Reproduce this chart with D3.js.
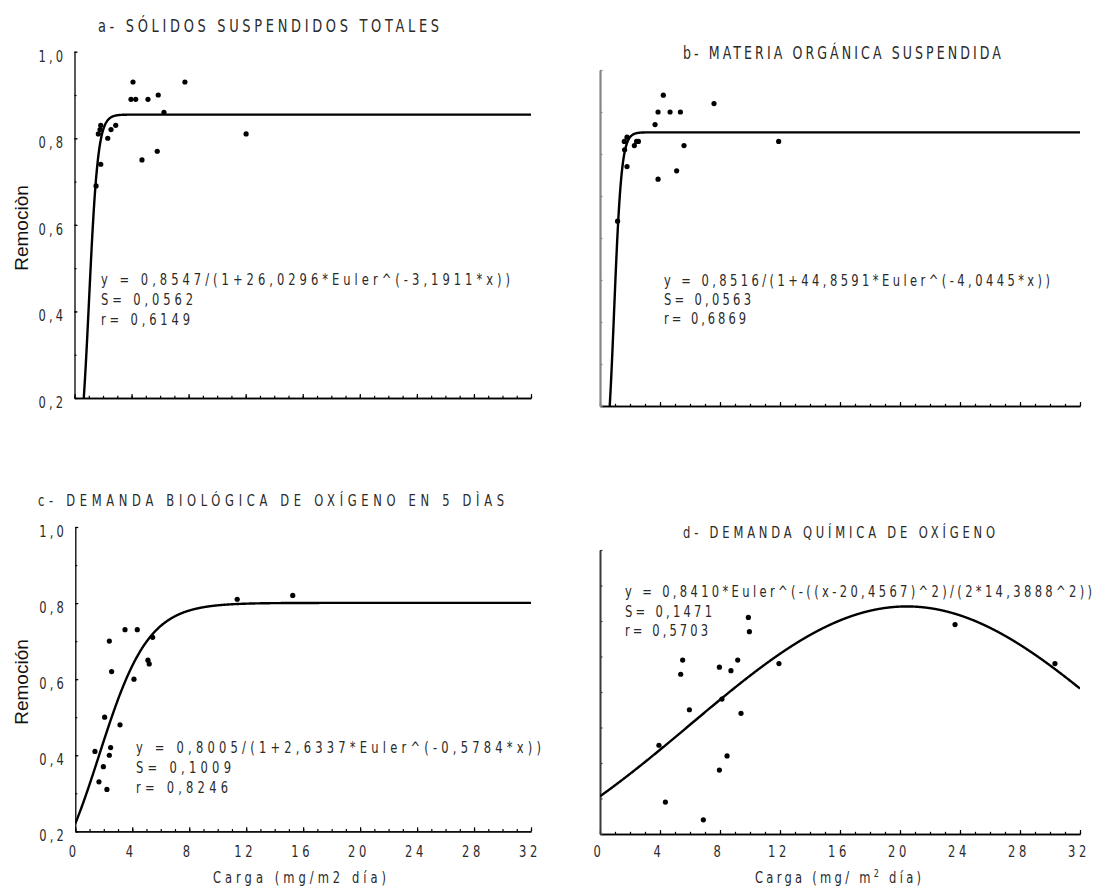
<!DOCTYPE html>
<html>
<head>
<meta charset="utf-8">
<script src="https://cdn.jsdelivr.net/npm/d3@7"></script>
<style>
  body { margin: 0; background: #fff; }
  svg { display: block; }
</style>
</head>
<body>
<svg id="chart" width="1097" height="890"></svg>
<script>
// ---- data: carga (mg/m2 día) vs remoción ----
// a - sólidos suspendidos totales
const ssCarga    = [1.51, 1.67, 1.84, 1.79, 1.84, 2.33, 2.56, 2.89, 4.10, 3.96, 4.29, 5.15, 5.87, 6.27, 4.73, 5.80, 7.74, 12.03];
const ssRemocion = [0.69, 0.81, 0.83, 0.82, 0.74, 0.80, 0.82, 0.83, 0.93, 0.89, 0.89, 0.89, 0.90, 0.86, 0.75, 0.77, 0.93, 0.81];
// b - materia orgánica suspendida
const moCarga    = [1.17, 1.62, 1.80, 1.64, 1.80, 2.29, 2.44, 2.56, 3.67, 3.87, 4.22, 4.67, 5.36, 3.87, 5.11, 5.60, 7.60, 11.91];
const moRemocion = [0.64, 0.83, 0.84, 0.81, 0.77, 0.82, 0.83, 0.83, 0.87, 0.90, 0.94, 0.90, 0.90, 0.74, 0.76, 0.82, 0.92, 0.83];
// c - demanda biológica de oxígeno en 5 días
const dboCarga    = [1.38, 1.66, 1.97, 2.22, 2.39, 2.48, 2.06, 2.39, 2.55, 3.14, 3.49, 4.35, 4.12, 5.10, 5.19, 5.43, 11.37, 15.27];
const dboRemocion = [0.41, 0.33, 0.37, 0.31, 0.40, 0.42, 0.50, 0.70, 0.62, 0.48, 0.73, 0.73, 0.60, 0.65, 0.64, 0.71, 0.81, 0.82];
// d - demanda química de oxígeno
const dqoCarga    = [3.93, 4.36, 5.38, 5.51, 5.96, 6.89, 7.96, 7.96, 8.13, 8.47, 8.73, 9.18, 9.40, 9.89, 9.96, 11.93, 23.67, 30.33];
const dqoRemocion = [0.45, 0.29, 0.65, 0.69, 0.55, 0.24, 0.67, 0.38, 0.58, 0.42, 0.66, 0.69, 0.54, 0.81, 0.77, 0.68, 0.79, 0.68];

// fitted model parameters
const ssFit  = [0.8547, 26.0296, 3.1911];   // logistic a/(1+b*e^(-c*x))
const moFit  = [0.8516, 44.8591, 4.0445];   // logistic
const dboFit = [0.8005, 2.6337, 0.5784];    // logistic
const dqoFit = [0.8410, 20.4567, 14.3888];  // gaussian a*e^(-((x-m)^2)/(2*s^2))

const xDomain = [0, 32];
const yDomain = [0.2, 1.0];
const xTickValues = [0, 4, 8, 12, 16, 20, 24, 28, 32];
const yTickValues = [0.2, 0.4, 0.6, 0.8, 1.0];
const yTickLabels = ["0,2", "0,4", "0,6", "0,8", "1,0"];

const titles = [
  "a- SÓLIDOS SUSPENDIDOS TOTALES",
  "b- MATERIA ORGÁNICA SUSPENDIDA",
  "c- DEMANDA BIOLÓGICA DE OXÍGENO EN 5 DÌAS",
  "d- DEMANDA QUÍMICA DE OXÍGENO"
];
const equations = [
  "y = 0,8547/(1+26,0296*Euler^(-3,1911*x))",
  "y = 0,8516/(1+44,8591*Euler^(-4,0445*x))",
  "y = 0,8005/(1+2,6337*Euler^(-0,5784*x))",
  "y = 0,8410*Euler^(-((x-20,4567)^2)/(2*14,3888^2))"
];
const sValues = ["S= 0,0562", "S= 0,0563", "S= 0,1009", "S= 0,1471"];
const rValues = ["r= 0,6149", "r= 0,6869", "r= 0,8246", "r= 0,5703"];

const logistic = p => x => p[0] / (1 + p[1] * Math.exp(-p[2] * x));
const gaussian = p => x => p[0] * Math.exp(-((x - p[1]) ** 2) / (2 * p[2] ** 2));

const NARROW = "'Liberation Sans Narrow', 'Arial Narrow', 'DejaVu Sans Condensed', sans-serif";
const SANS = "'Liberation Sans', Arial, sans-serif";
const SX = 0.8;          // horizontal squeeze for the condensed lettering
const INK = "#2a2a2a";

// condensed text of a given total width, placed at (x, y)
function narrowText(parent, x, y, str, len, size, anchor) {
  const t = parent.append("g")
    .attr("transform", `translate(${x},${y}) scale(${SX},1)`)
    .append("text")
    .attr("font-family", NARROW).attr("font-size", size).attr("fill", INK)
    .attr("xml:space", "preserve");
  if (len) t.attr("textLength", len / SX).attr("lengthAdjust", "spacing");
  if (anchor) t.attr("text-anchor", anchor);
  if (str !== null) t.text(str);
  return t;
}

// panel geometry and styling
const panels = [
  { xs: ssCarga, ys: ssRemocion, model: logistic(ssFit), title: titles[0], eq: equations[0], s: sValues[0], r: rValues[0],
    px: [74.5, 531], py: [398, 51.7], yColor: "#000", yWidth: 1.3, xWidth: 1.3,
    yLabels: true, xLabels: false, ylab: "Remociòn", ylabY: 228,
    titleX: 98, titleY: 32, titleLen: 341, titleSize: 18,
    eqX: 101, eqY: [285, 305, 325], eqLen: [409, 92, 89] },
  { xs: moCarga, ys: moRemocion, model: logistic(moFit), title: titles[1], eq: equations[1], s: sValues[1], r: rValues[1],
    px: [600, 1080], py: [406, 70], yColor: "#858585", yWidth: 2.2, xWidth: 1.6,
    yLabels: false, xLabels: false,
    titleX: 683, titleY: 59, titleLen: 318, titleSize: 17.5,
    eqX: 664, eqY: [286, 305, 324], eqLen: [386, 87, 82] },
  { xs: dboCarga, ys: dboRemocion, model: logistic(dboFit), title: titles[2], eq: equations[2], s: sValues[2], r: rValues[2],
    px: [75.3, 531], py: [831.3, 527], yColor: "#000", yWidth: 1.3, xWidth: 1.3,
    yLabels: true, xLabels: true, ylab: "Remoción", ylabY: 682,
    titleX: 38, titleY: 506, titleLen: 466, titleSize: 16,
    eqX: 136, eqY: [753, 773, 793], eqLen: [405, 95, 92] },
  { xs: dqoCarga, ys: dqoRemocion, model: gaussian(dqoFit), title: titles[3], eq: equations[3], s: sValues[3], r: rValues[3],
    px: [600, 1080], py: [834, 550], yColor: "#3a3a3a", yWidth: 2.0, xWidth: 1.6,
    yLabels: false, xLabels: true,
    titleX: 683, titleY: 538, titleLen: 312, titleSize: 16,
    eqX: 625, eqY: [597, 617, 636], eqLen: [467, 87, 83] }
];

const svg = d3.select("#chart");

panels.forEach((p, i) => {
  const x = d3.scaleLinear().domain(xDomain).range(p.px);
  const y = d3.scaleLinear().domain(yDomain).range(p.py);
  const g = svg.append("g");

  // clip region = plotting area
  const clipId = "clip" + i;
  svg.append("clipPath").attr("id", clipId)
    .append("rect")
    .attr("x", p.px[0]).attr("y", p.py[1])
    .attr("width", p.px[1] - p.px[0]).attr("height", p.py[0] - p.py[1]);

  // x axis: unit ticks, longer every 4
  const xMinor = d3.axisBottom(x).tickValues(d3.range(0, 33, 1)).tickSize(-2.2).tickSizeOuter(0).tickFormat("");
  const xMajor = d3.axisBottom(x).tickValues(xTickValues).tickSize(-4).tickSizeOuter(0).tickFormat("");
  [xMinor, xMajor].forEach(ax => {
    const a = g.append("g").attr("transform", `translate(0,${p.py[0]})`).call(ax);
    a.select(".domain").attr("stroke", "#000").attr("stroke-width", p.xWidth);
    a.selectAll(".tick line").attr("stroke", "#000").attr("stroke-width", 1.2);
  });

  // y axis: ticks every 0.1 pointing inward
  const yMinor = d3.axisLeft(y).tickValues(d3.range(2, 11).map(v => v / 10)).tickSize(p.yLabels ? -2 : -2.5).tickSizeOuter(0).tickFormat("");
  const ya = g.append("g").attr("transform", `translate(${p.px[0]},0)`).call(yMinor);
  ya.select(".domain").attr("stroke", p.yColor).attr("stroke-width", p.yWidth);
  ya.selectAll(".tick line").attr("stroke", p.yColor).attr("stroke-width", 1.2);
  if (p.yLabels) {
    const yMaj = d3.axisLeft(y).tickValues(yTickValues).tickSize(-3).tickSizeOuter(0).tickFormat("");
    const ym = g.append("g").attr("transform", `translate(${p.px[0]},0)`).call(yMaj);
    ym.select(".domain").remove();
    ym.selectAll(".tick line").attr("stroke", "#000").attr("stroke-width", 1.2);

    yTickValues.forEach((v, k) => {
      narrowText(g, p.px[0] - 36, y(v) + 10, yTickLabels[k], 24.5, 16);
    });

    g.append("text")
      .attr("transform", `translate(21,${p.ylabY}) rotate(-90)`)
      .attr("text-anchor", "middle").attr("dominant-baseline", "central")
      .attr("font-family", SANS).attr("font-size", 19).attr("fill", "#111")
      .text(p.ylab);
  }

  if (p.xLabels) {
    xTickValues.forEach(v => {
      narrowText(g, x(v) - 1, 857, String(v), null, 16, "middle")
        .attr("letter-spacing", 4.6);
    });
  }

  // title
  narrowText(g, p.titleX, p.titleY, p.title, p.titleLen, p.titleSize);

  // fitted equation and statistics
  [p.eq, p.s, p.r].forEach((t, k) => {
    narrowText(g, p.eqX, p.eqY[k], t, p.eqLen[k], 16);
  });

  // model curve
  const curveX = d3.range(0, 32.0001, 0.02);
  const line = d3.line().x(d => x(d)).y(d => y(Math.max(p.model(d), 0.1)));
  g.append("path")
    .datum(curveX)
    .attr("clip-path", `url(#${clipId})`)
    .attr("d", line)
    .attr("fill", "none").attr("stroke", "#000").attr("stroke-width", 2.4)
    .attr("stroke-linejoin", "round");

  // observations
  g.selectAll(".pt").data(p.xs.map((v, k) => [v, p.ys[k]])).enter().append("circle")
    .attr("cx", d => x(d[0])).attr("cy", d => y(d[1])).attr("r", 2.6)
    .attr("fill", "#000");
});

// x axis titles
narrowText(svg, 213, 883, "Carga (mg/m2 día)", 173, 16);

const dLab = narrowText(svg, 755, 883, null, 166, 16);
dLab.append("tspan").text("Carga (mg/ m");
dLab.append("tspan").attr("dy", -6).attr("font-size", 11).text("2");
dLab.append("tspan").attr("dy", 6).text(" día)");
</script>
</body>
</html>
